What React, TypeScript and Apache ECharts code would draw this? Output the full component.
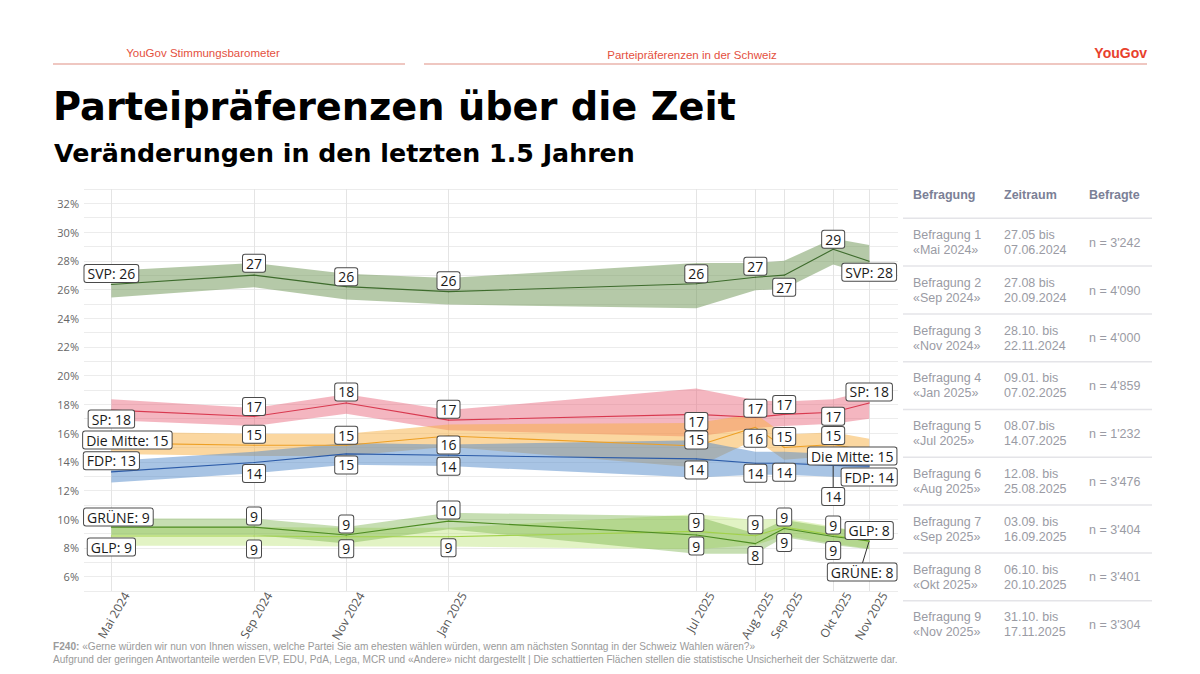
import React, { useEffect, useRef } from 'react';
import * as echarts from 'echarts';

// ---------- data ----------
const surveyLabels = ['Mai 2024', 'Sep 2024', 'Nov 2024', 'Jan 2025', 'Jul 2025', 'Aug 2025', 'Sep 2025', 'Okt 2025', 'Nov 2025'];
const surveyDates = ['2024-06-01', '2024-09-08', '2024-11-11', '2025-01-21', '2025-07-12', '2025-08-22', '2025-09-11', '2025-10-15', '2025-11-09'];
const axisStart = '2024-05-13';
const axisEnd = '2025-11-29';

const svp = [26.35, 27.0, 26.2, 25.85, 26.4, 26.85, 27.0, 28.8, 27.97];
const svpLo = [25.45, 26.15, 25.3, 24.95, 24.7, 25.95, 26.05, 27.75, 27.0];
const svpHi = [27.3, 27.85, 27.1, 26.8, 27.85, 27.85, 28.0, 29.55, 29.1];

const sp = [17.6, 17.15, 18.1, 16.9, 17.3, 17.1, 17.3, 17.45, 18.1];
const spLo = [16.9, 16.5, 17.35, 16.2, 15.75, 16.35, 16.5, 16.65, 17.0];
const spHi = [18.35, 17.75, 18.7, 17.6, 19.1, 18.3, 18.2, 18.35, 18.95];

const mitte = [15.3, 15.15, 15.15, 15.8, 15.1, 16.4, 15.0, 15.2, 14.75];
const mitteLo = [14.55, 14.4, 14.4, 15.05, 13.6, 15.55, 14.15, 14.4, 13.9];
const mitteHi = [16.1, 15.95, 15.95, 16.6, 16.7, 17.35, 15.9, 16.05, 15.6];

const fdp = [13.3, 13.95, 14.55, 14.45, 14.2, 13.9, 13.9, 13.75, 13.7];
const fdpLo = [12.55, 13.2, 13.8, 13.7, 12.9, 13.1, 13.1, 12.95, 12.9];
const fdpHi = [14.05, 14.7, 15.3, 15.2, 15.5, 14.7, 14.7, 14.55, 14.5];

const gruene = [9.45, 9.45, 8.9, 9.87, 8.9, 8.3, 9.35, 8.8, 8.48];
const grueneLo = [8.9, 8.9, 8.3, 9.3, 7.6, 7.6, 8.75, 8.2, 7.9];
const grueneHi = [10.05, 10.05, 9.45, 10.45, 10.2, 9.0, 9.95, 9.4, 9.05];

const glp = [8.83, 8.83, 8.78, 8.78, 9.15, 8.85, 9.45, 8.9, 8.45];
const glpLo = [8.15, 8.15, 8.1, 8.1, 7.9, 8.2, 8.85, 8.3, 7.95];
const glpHi = [9.45, 9.45, 9.4, 9.4, 10.35, 9.95, 10.05, 9.5, 9.0];

const yTickLabels = [6, 8, 10, 12, 14, 16, 18, 20, 22, 24, 26, 28, 30, 32];

// table
const tableHeaders = ['Befragung', 'Zeitraum', 'Befragte'];
const surveyNames = ['Befragung 1', 'Befragung 2', 'Befragung 3', 'Befragung 4', 'Befragung 5', 'Befragung 6', 'Befragung 7', 'Befragung 8', 'Befragung 9'];
const surveyMonths = ['«Mai 2024»', '«Sep 2024»', '«Nov 2024»', '«Jan 2025»', '«Jul 2025»', '«Aug 2025»', '«Sep 2025»', '«Okt 2025»', '«Nov 2025»'];
const periodStart = ['27.05 bis', '27.08 bis', '28.10. bis', '09.01. bis', '08.07.bis', '12.08. bis', '03.09. bis', '06.10. bis', '31.10. bis'];
const periodEnd = ['07.06.2024', '20.09.2024', '22.11.2024', '07.02.2025', '14.07.2025', '25.08.2025', '16.09.2025', '20.10.2025', '17.11.2025'];
const respondents = ["n = 3'242", "n = 4'090", "n = 4'000", "n = 4'859", "n = 1'232", "n = 3'476", "n = 3'404", "n = 3'401", "n = 3'304"];

// ---------- label layout (pixel offsets of each value box) ----------
const svpDx = [0, 0, 0, 0, 0, 0, 0, 0, 0];
const svpDy = [-11, -12, -10, -11, -10, -11, 12, -10, 11];
const spDx = [0, 0, 0, 0, 0, 0, 0, 0, 0];
const spDy = [9, -10, -11, -11, 7, -9, -10, 4, -11];
const mitteDx = [16, 0, 0, 0, 0, 0, 0, 0, -17];
const mitteDy = [-3, -11, -10, 9, -6, 11, -11, -9, 5];
const fdpDx = [0, 0, 0, 0, 0, 0, 0, 0, 0];
const fdpDy = [-11, 11, 11, 11, 11, 10, 9, 31, 11];
const grueneDx = [7, 0, 0, 0, 0, 0, 0, 0, -7];
const grueneDy = [-10, -11, -11, -11, 11, 12, 14, 14, 31];
const glpDx = [0, 0, 0, 0, 0, 0, 0, 0, 0];
const glpDy = [11, 13, 12, 11, -9, -11, -10, -10, -11];

const ts = (s: string) => {
  const [y, m, d] = s.split('-').map(Number);
  return Date.UTC(y, m - 1, d);
};
const xs = surveyDates.map(ts);

const parties = [
  { name: 'SVP', v: svp, lo: svpLo, hi: svpHi, line: '#3d6b2c', band: 'rgba(107,147,81,0.5)', dx: svpDx, dy: svpDy },
  { name: 'SP', v: sp, lo: spLo, hi: spHi, line: '#d8394f', band: 'rgba(233,103,123,0.48)', dx: spDx, dy: spDy },
  { name: 'Die Mitte', v: mitte, lo: mitteLo, hi: mitteHi, line: '#eea024', band: 'rgba(247,175,65,0.5)', dx: mitteDx, dy: mitteDy },
  { name: 'FDP', v: fdp, lo: fdpLo, hi: fdpHi, line: '#2b5ba8', band: 'rgba(81,137,201,0.5)', dx: fdpDx, dy: fdpDy },
  { name: 'GLP', v: glp, lo: glpLo, hi: glpHi, line: '#a2d24a', band: 'rgba(190,228,125,0.45)', dx: glpDx, dy: glpDy },
  { name: 'GRÜNE', v: gruene, lo: grueneLo, hi: grueneHi, line: '#4d8c22', band: 'rgba(112,172,62,0.4)', dx: grueneDx, dy: grueneDy },
];

const GRID = { left: 84, right: 302, top: 189, bottom: 83 };

function buildOption(): any {
  const series: any[] = [];
  parties.forEach((p) => {
    series.push({
      type: 'custom', name: p.name + ' Unsicherheit', silent: true, z: 1,
      data: xs.map((x, i) => [x, p.lo[i], p.hi[i]]),
      encode: { x: 0, y: [1, 2] },
      renderItem: (params: any, api: any) => {
        if (params.dataIndex !== 0) return null;
        const upper = xs.map((x, i) => api.coord([x, p.hi[i]]));
        const lower = xs.map((x, i) => api.coord([x, p.lo[i]])).reverse();
        return { type: 'polygon', shape: { points: upper.concat(lower) }, style: { fill: p.band }, silent: true };
      },
    });
  });
  parties.forEach((p) => {
    const n = p.v.length;
    series.push({
      type: 'line', name: p.name,
      data: xs.map((x, i) => ({
        value: [x, p.v[i]],
        label: { show: true, position: 'inside', offset: [p.dx[i], p.dy[i]] },
      })),
      symbol: 'circle', symbolSize: 1, showSymbol: true,
      lineStyle: { color: p.line, width: 1.1 },
      itemStyle: { color: p.line },
      z: 3,
      emphasis: { disabled: true },
      label: {
        formatter: (params: any) => {
          const i = params.dataIndex;
          const r = Math.round(params.value[1]);
          return i === 0 || i === n - 1 ? `${p.name}: ${r}` : `${r}`;
        },
        backgroundColor: '#ffffff',
        borderColor: '#4a4a4a',
        borderWidth: 1,
        borderRadius: 2,
        padding: [1, 3, 1, 3],
        fontSize: 14,
        lineHeight: 15,
        fontFamily: 'Open Sans',
        color: '#1a1a1a',
      },
    });
  });

  return {
    animation: false,
    backgroundColor: '#ffffff',
    textStyle: { fontFamily: 'Open Sans' },
    grid: { left: GRID.left, right: GRID.right, top: GRID.top, bottom: GRID.bottom, containLabel: false },
    xAxis: {
      type: 'value',
      min: ts(axisStart),
      max: ts(axisEnd),
      axisLine: { show: false },
      axisTick: { show: false, customValues: xs },
      splitLine: { show: true, lineStyle: { color: '#e4e4e4', width: 1 } },
      axisLabel: { show: false, customValues: xs },
    },
    yAxis: {
      type: 'value',
      min: 5,
      max: 33,
      interval: 1,
      axisLine: { show: false },
      axisTick: { show: false },
      splitLine: { show: true, lineStyle: { color: '#ececec', width: 1 } },
      axisLabel: {
        margin: 5,
        color: '#666',
        fontSize: 11,
        fontFamily: 'Open Sans',
        formatter: (v: number) => (yTickLabels.indexOf(v) >= 0 ? `${v}%` : ''),
      },
    },
    series,
  };
}

function buildGraphic(chart: any): any[] {
  const g: any[] = [];
  const red = '#e4503e';
  const narrow = '"Liberation Sans Narrow", "Liberation Sans", Arial';
  // header
  g.push({ type: 'text', x: 203, y: 53, style: { text: 'YouGov Stimmungsbarometer', fill: red, font: `11.5px ${narrow}`, textAlign: 'center', textVerticalAlign: 'middle' } });
  g.push({ type: 'text', x: 692, y: 55, style: { text: 'Parteipräferenzen in der Schweiz', fill: red, font: `11.5px ${narrow}`, textAlign: 'center', textVerticalAlign: 'middle' } });
  g.push({ type: 'text', x: 1147, y: 53, style: { text: 'YouGov', fill: '#e8412c', font: `bold 14px ${narrow}`, textAlign: 'right', textVerticalAlign: 'middle' } });
  g.push({ type: 'rect', shape: { x: 53, y: 63, width: 352, height: 2 }, style: { fill: '#efc7c1' } });
  g.push({ type: 'rect', shape: { x: 424, y: 63, width: 723, height: 2 }, style: { fill: '#efc7c1' } });
  // titles
  g.push({ type: 'text', x: 53, y: 106, style: { text: 'Parteipräferenzen über die Zeit', fill: '#000', font: 'bold 38.3px "DejaVu Sans", sans-serif', textAlign: 'left', textVerticalAlign: 'middle' } });
  g.push({ type: 'text', x: 54, y: 153, style: { text: 'Veränderungen in den letzten 1.5 Jahren', fill: '#000', font: 'bold 25.3px "DejaVu Sans", sans-serif', textAlign: 'left', textVerticalAlign: 'middle' } });

  // x-axis labels, placed at the axis' own pixel positions
  xs.forEach((x, i) => {
    const p = chart.convertToPixel({ gridIndex: 0 }, [x, 5]);
    if (!p) return;
    g.push({
      type: 'text', x: p[0] + 15, y: p[1] + 2, rotation: Math.PI / 3,
      style: { text: surveyLabels[i], fill: '#555', font: '12px "Open Sans"', textAlign: 'right', textVerticalAlign: 'middle' },
    });
  });

  // table
  const colX = [913, 1004, 1089];
  tableHeaders.forEach((h, i) => {
    g.push({ type: 'text', x: colX[i], y: 195, style: { text: h, fill: '#7b8096', font: 'bold 12.5px "Liberation Sans", Arial', textAlign: 'left', textVerticalAlign: 'middle' } });
  });
  const rowTop = 218.3;
  const rowH = 47.8;
  surveyNames.forEach((name, i) => {
    const s = rowTop + rowH * i;
    g.push({ type: 'rect', shape: { x: 903, y: s - 0.75, width: 249, height: 1.5 }, style: { fill: '#e4e4e8' } });
    const font = '12.5px "Liberation Sans", Arial';
    const fill = '#9a9ba4';
    g.push({ type: 'text', x: colX[0], y: s + 16.7, style: { text: name, fill, font, textVerticalAlign: 'middle' } });
    g.push({ type: 'text', x: colX[0], y: s + 31.7, style: { text: surveyMonths[i], fill, font, textVerticalAlign: 'middle' } });
    g.push({ type: 'text', x: colX[1], y: s + 16.7, style: { text: periodStart[i], fill, font, textVerticalAlign: 'middle' } });
    g.push({ type: 'text', x: colX[1], y: s + 31.7, style: { text: periodEnd[i], fill, font, textVerticalAlign: 'middle' } });
    g.push({ type: 'text', x: colX[2], y: s + 24.4, style: { text: respondents[i], fill, font, textVerticalAlign: 'middle' } });
  });

  // footnote
  g.push({
    type: 'text', x: 53, y: 646,
    style: {
      text: '{b|F240:} «Gerne würden wir nun von Ihnen wissen, welche Partei Sie am ehesten wählen würden, wenn am nächsten Sonntag in der Schweiz Wahlen wären?»',
      fill: '#9a9a9a', font: `10.1px ${narrow}`, textVerticalAlign: 'middle',
      rich: { b: { fill: '#9a9a9a', font: `bold 10.1px ${narrow}` } },
    },
  });
  g.push({
    type: 'text', x: 53, y: 659,
    style: {
      text: 'Aufgrund der geringen Antwortanteile werden EVP, EDU, PdA, Lega, MCR und «Andere» nicht dargestellt | Die schattierten Flächen stellen die statistische Unsicherheit der Schätzwerte dar.',
      fill: '#9a9a9a', font: `10.1px ${narrow}`, textVerticalAlign: 'middle',
    },
  });

  // connector lines for displaced value boxes
  const connectors = [
    { x: xs[7], v: fdp[7], dx: fdpDx[7], dy: fdpDy[7] },
    { x: xs[8], v: gruene[8], dx: grueneDx[8], dy: grueneDy[8] },
  ];
  connectors.forEach((c) => {
    const p = chart.convertToPixel({ gridIndex: 0 }, [c.x, c.v]);
    if (!p) return;
    g.push({ type: 'line', z: 2, shape: { x1: p[0], y1: p[1], x2: p[0] + c.dx, y2: p[1] + c.dy - 8 }, style: { stroke: '#333', lineWidth: 1 } });
  });
  return g;
}

export default function App() {
  const ref = useRef<HTMLDivElement>(null);
  useEffect(() => {
    if (!ref.current) return;
    const chart = echarts.init(ref.current, undefined, { renderer: 'svg' });
    chart.setOption(buildOption());
    chart.setOption({ graphic: buildGraphic(chart) });
    return () => chart.dispose();
  }, []);
  return (
    <div
      ref={ref}
      style={{ position: 'absolute', left: 0, top: 0, width: 1200, height: 674, background: '#fff' }}
    />
  );
}
